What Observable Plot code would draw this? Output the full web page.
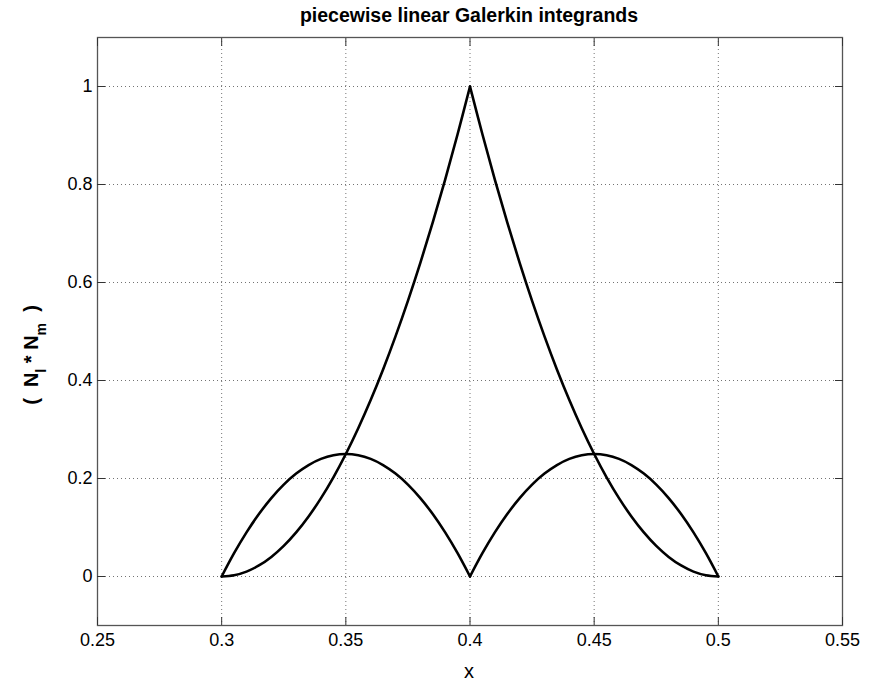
<!DOCTYPE html>
<html>
<head>
<meta charset="utf-8">
<script src="https://cdn.jsdelivr.net/npm/d3@7"></script>
<script src="https://cdn.jsdelivr.net/npm/@observablehq/plot@0.6"></script>
<style>
  html, body { margin: 0; padding: 0; background: #fff; }
  #chart { width: 873px; height: 684px; }
  svg { font-family: "Liberation Sans", Arial, sans-serif; }
</style>
</head>
<body>
<div id="chart"></div>
<script>
const titleText = "piecewise linear Galerkin integrands";
const xLabelText = "x";
const xTicks = [0.25, 0.3, 0.35, 0.4, 0.45, 0.5, 0.55];
const yTicks = [0, 0.2, 0.4, 0.6, 0.8, 1];

const xLeft = [0.3,0.305,0.31,0.315,0.32,0.325,0.33,0.335,0.34,0.345,0.35,0.355,0.36,0.365,0.37,0.375,0.38,0.385,0.39,0.395,0.4];
const xRight = [0.4,0.405,0.41,0.415,0.42,0.425,0.43,0.435,0.44,0.445,0.45,0.455,0.46,0.465,0.47,0.475,0.48,0.485,0.49,0.495,0.5];
const riseVals = [0,0.0025,0.01,0.0225,0.04,0.0625,0.09,0.1225,0.16,0.2025,0.25,0.3025,0.36,0.4225,0.49,0.5625,0.64,0.7225,0.81,0.9025,1];
const humpVals = [0,0.0475,0.09,0.1275,0.16,0.1875,0.21,0.2275,0.24,0.2475,0.25,0.2475,0.24,0.2275,0.21,0.1875,0.16,0.1275,0.09,0.0475,0];
const fallVals = [1,0.9025,0.81,0.7225,0.64,0.5625,0.49,0.4225,0.36,0.3025,0.25,0.2025,0.16,0.1225,0.09,0.0625,0.04,0.0225,0.01,0.0025,0];

const series = [
  {name: "left NlNl", xs: xLeft, ys: riseVals},
  {name: "left NlNm", xs: xLeft, ys: humpVals},
  {name: "right NlNm", xs: xRight, ys: humpVals},
  {name: "right NmNm", xs: xRight, ys: fallVals}
];
const rows = series.flatMap(s => s.xs.map((x, i) => ({series: s.name, x, y: s.ys[i]})));

const fmt = d => String(+d.toFixed(3));

const W = 873, H = 684;
const plot = Plot.plot({
  width: W,
  height: H,
  marginLeft: 97,
  marginRight: 31,
  marginTop: 37,
  marginBottom: 59,
  style: {fontFamily: "Liberation Sans, Arial, sans-serif", fontSize: "18px", color: "#000", background: "#fff"},
  x: {domain: [0.25, 0.55]},
  y: {domain: [-0.1, 1.1]},
  marks: [
    Plot.gridX(xTicks, {stroke: "#000", strokeOpacity: 0.55, strokeDasharray: "1 3", strokeWidth: 1}),
    Plot.gridY(yTicks, {stroke: "#000", strokeOpacity: 0.55, strokeDasharray: "1 3", strokeWidth: 1}),
    Plot.frame({stroke: "#555", strokeWidth: 1.3}),
    Plot.axisX(xTicks, {anchor: "bottom", tickSize: 8, dy: -8, text: null, stroke: "#333", label: null}),
    Plot.axisX(xTicks, {anchor: "top", tickSize: 8, dy: 8, text: null, stroke: "#333", label: null}),
    Plot.axisY(yTicks, {anchor: "left", tickSize: 8, dx: 8, text: null, stroke: "#333", label: null}),
    Plot.axisY(yTicks, {anchor: "right", tickSize: 8, dx: -8, text: null, stroke: "#333", label: null}),
    Plot.axisX(xTicks, {anchor: "bottom", tickSize: 0, tickPadding: 8, tickFormat: fmt, fontSize: 18, label: null}),
    Plot.axisY(yTicks, {anchor: "left", tickSize: 0, tickPadding: 5, tickFormat: fmt, fontSize: 18, label: null}),
    Plot.line(rows, {x: "x", y: "y", z: "series", stroke: "#000", strokeWidth: 2.6, curve: "catmull-rom"})
  ]
});

const svg = d3.select(plot);
svg.append("text")
  .attr("x", 469).attr("y", 22)
  .attr("text-anchor", "middle")
  .attr("font-weight", "bold")
  .attr("font-size", 19.5)
  .attr("fill", "#000")
  .text(titleText);
svg.append("text")
  .attr("x", 469).attr("y", 678)
  .attr("text-anchor", "middle")
  .attr("font-size", 20)
  .attr("fill", "#000")
  .text(xLabelText);
const yl = svg.append("text")
  .attr("transform", "translate(38,355) rotate(-90)")
  .attr("text-anchor", "middle")
  .attr("font-weight", "bold")
  .attr("font-size", 20)
  .attr("fill", "#000")
  .attr("xml:space", "preserve")
  .style("white-space", "pre");
yl.append("tspan").text("(  N");
yl.append("tspan").attr("baseline-shift", "sub").attr("font-size", 14).text("l");
yl.append("tspan").attr("baseline-shift", "0").text(" * N");
yl.append("tspan").attr("baseline-shift", "sub").attr("font-size", 14).text("m");
yl.append("tspan").text("  )");

document.getElementById("chart").appendChild(plot);
</script>
</body>
</html>
